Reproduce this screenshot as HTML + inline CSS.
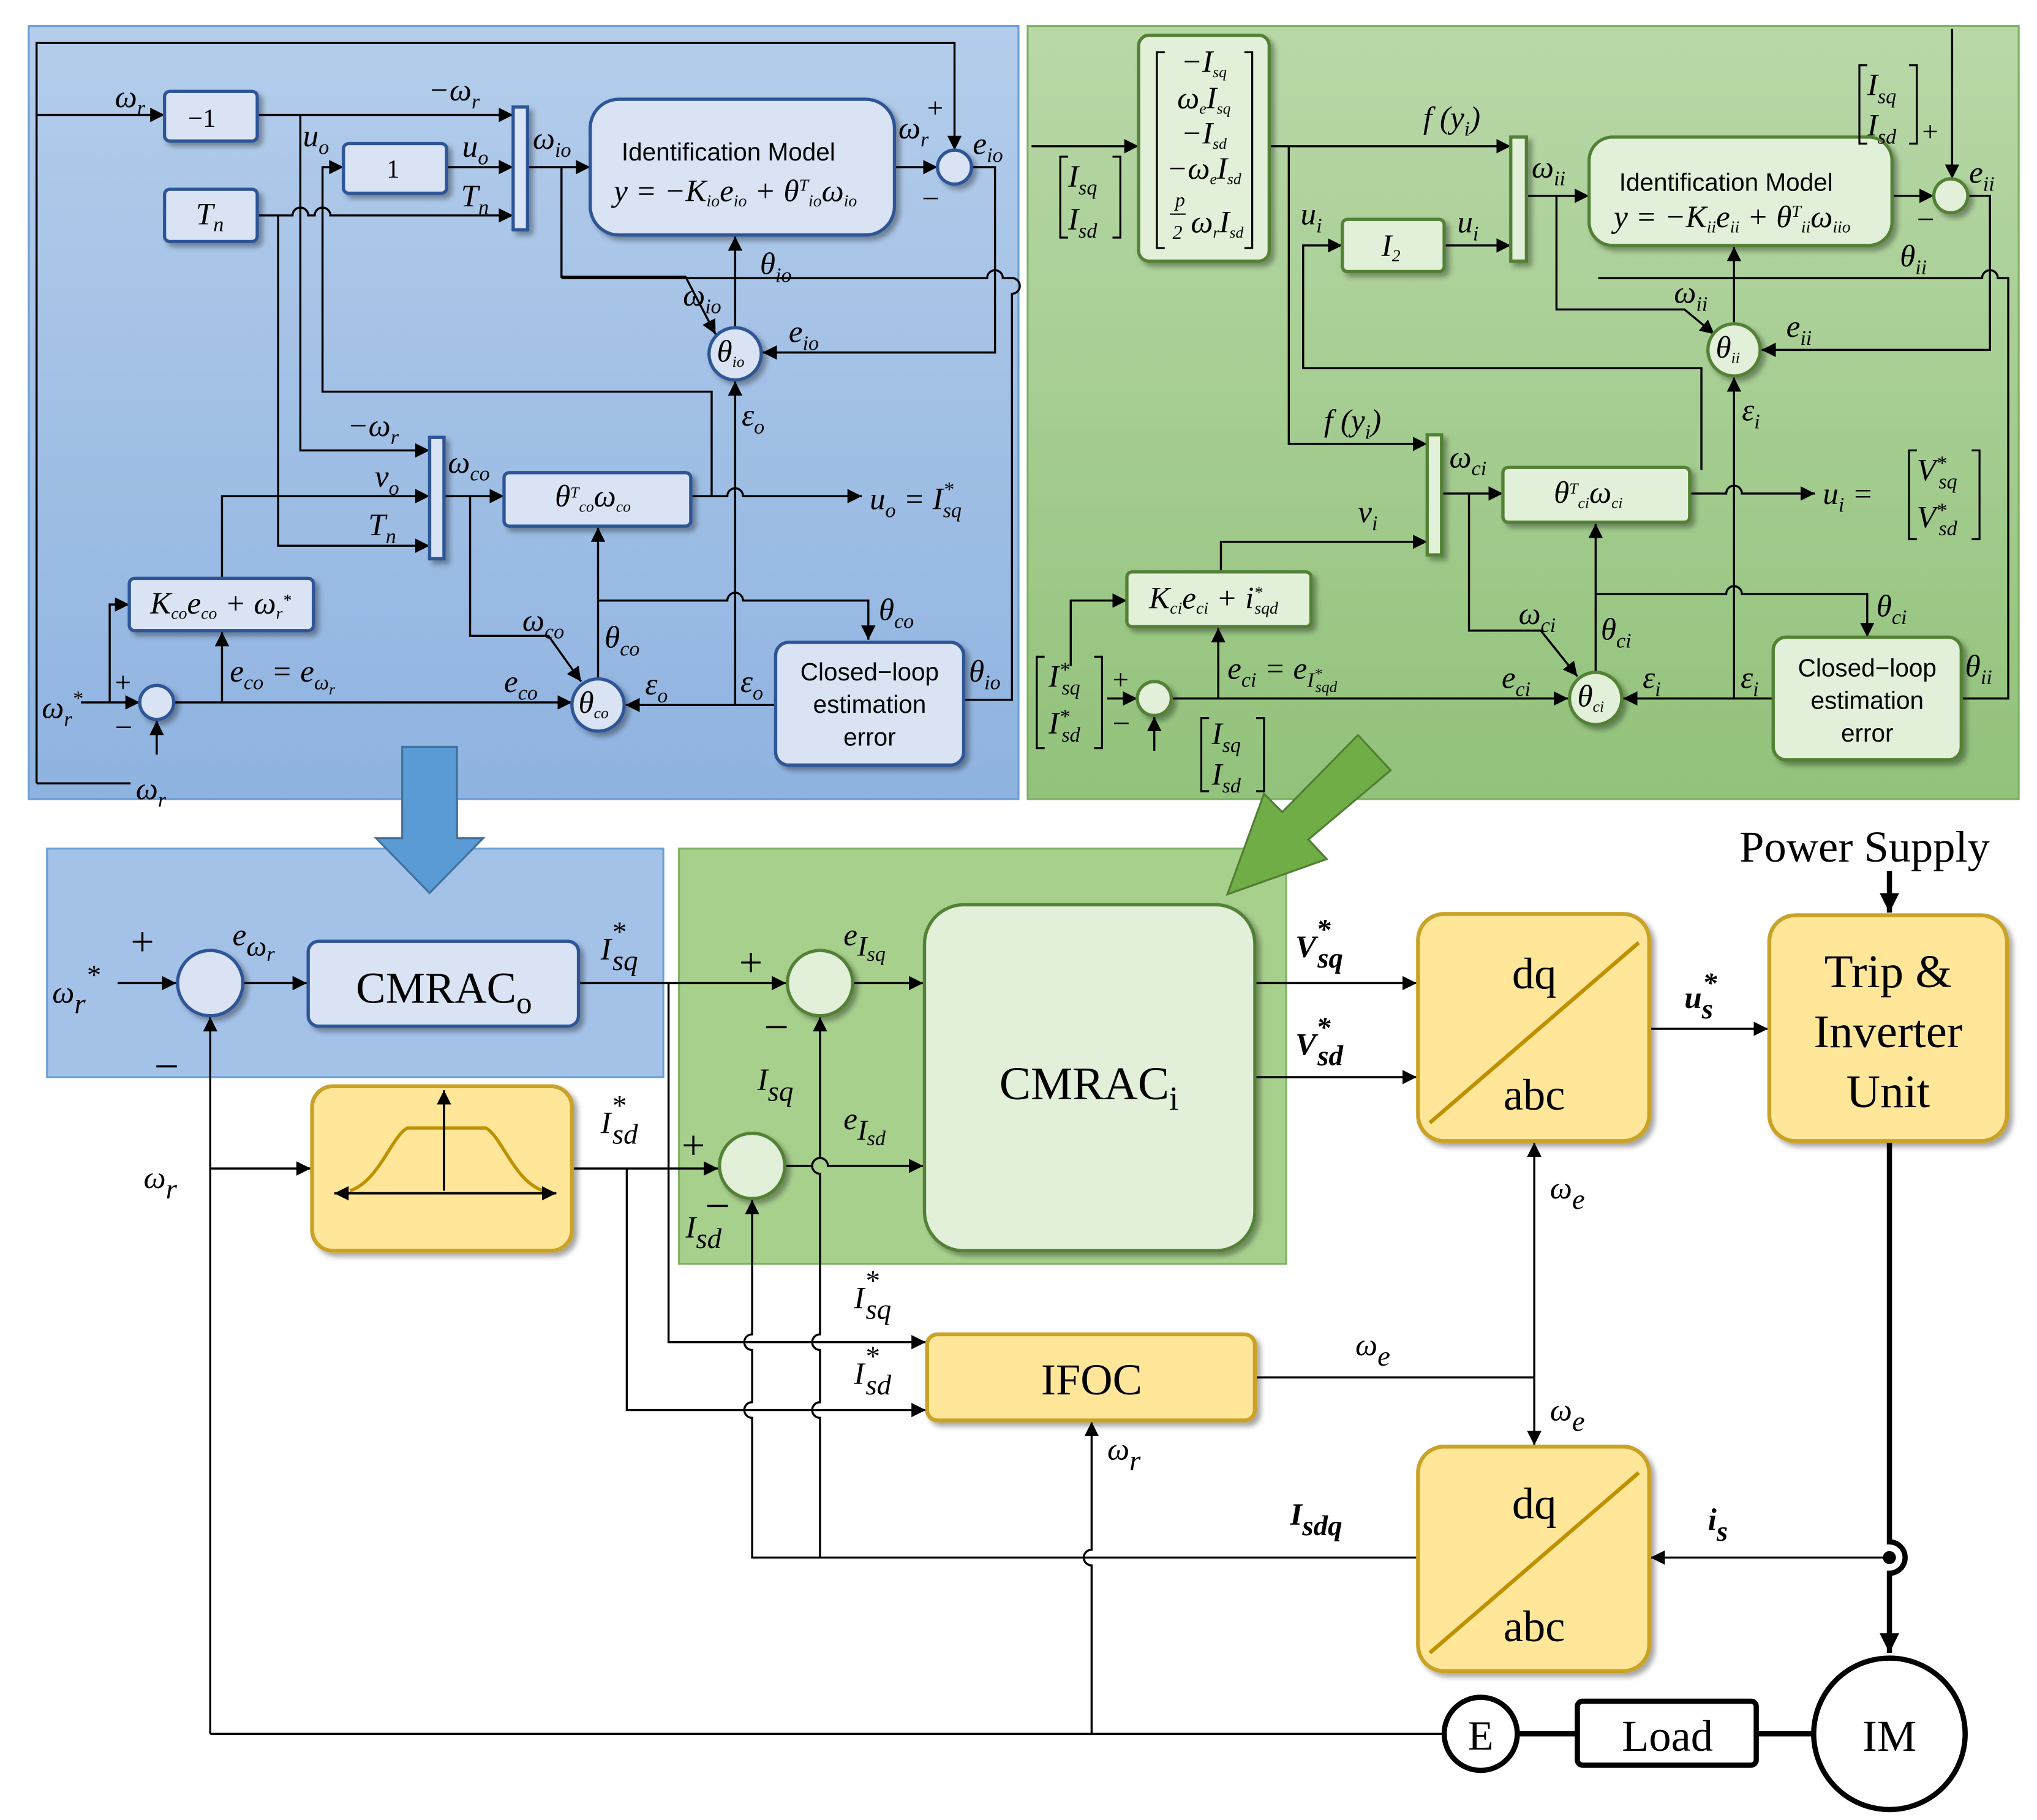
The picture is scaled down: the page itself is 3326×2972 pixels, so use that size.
<!DOCTYPE html>
<html><head><meta charset="utf-8">
<style>
html,body{margin:0;padding:0;background:#fff;}
svg{display:block;}
text{font-family:"Liberation Serif",serif;}
.m{font-style:italic;font-size:24px;}
.s{font-size:16px;}
.sf{font-family:"Liberation Sans",sans-serif;}
</style></head><body>
<svg width="3326" height="2972" viewBox="0 0 1560 1394" xmlns="http://www.w3.org/2000/svg">
<defs>
<marker id="a" viewBox="0 0 10 10" refX="10" refY="5" markerWidth="11" markerHeight="11" markerUnits="userSpaceOnUse" orient="auto"><path d="M0,0 L10,5 L0,10 z" fill="#000"/></marker>
<marker id="b" viewBox="0 0 10 10" refX="10" refY="5" markerWidth="15" markerHeight="15" markerUnits="userSpaceOnUse" orient="auto"><path d="M0,0 L10,5 L0,10 z" fill="#000"/></marker>
<linearGradient id="gb" x1="0" y1="0" x2="0" y2="1"><stop offset="0" stop-color="#b4cdeb"/><stop offset="1" stop-color="#8fb3e0"/></linearGradient>
<linearGradient id="gg" x1="0" y1="0" x2="0" y2="1"><stop offset="0" stop-color="#b9d8a8"/><stop offset="1" stop-color="#92c27b"/></linearGradient>
<filter id="sh" x="-10%" y="-10%" width="130%" height="130%"><feDropShadow dx="3" dy="3" stdDeviation="2" flood-opacity="0.35"/></filter>
</defs>

<rect x="22" y="20" width="758" height="592" fill="url(#gb)" stroke="#6d9fd6" stroke-width="1.5"/>
<rect x="787" y="20" width="759" height="592" fill="url(#gg)" stroke="#7fb163" stroke-width="1.5"/>
<rect x="36" y="650" width="472" height="175" fill="#a4c2e8" stroke="#6d9fd6" stroke-width="1.5"/>
<rect x="520" y="650" width="465" height="318" fill="#a8d08d" stroke="#7fb163" stroke-width="1.5"/>

<path d="M308,572 L350,572 L350,642 L370,642 L329,684 L288,642 L308,642 Z" fill="#5b9bd5" stroke="#41719c" stroke-width="1.5"/>
<path d="M1065,590 L1040,563 L982,622 L968,608 L940,685 L1016,658 L1002,643 Z" fill="#70ad47" stroke="#507e32" stroke-width="1.5"/>

<g fill="none" stroke="#000" stroke-width="1.6">
<polyline points="28,600 28,33 731,33 731,115" marker-end="url(#a)"/>
<line x1="28" y1="88" x2="126" y2="88" marker-end="url(#a)"/>
<line x1="28" y1="600" x2="100" y2="600"/>
<line x1="197" y1="88" x2="393" y2="88" marker-end="url(#a)"/>
<polyline points="230,88 230,345 329,345" marker-end="url(#a)"/>
<polyline points="545,380 545,300 247,300 247,128 263,128" marker-end="url(#a)"/>
<line x1="342" y1="128" x2="393" y2="128" marker-end="url(#a)"/>
<path d="M197,165 L224,165 A6,6 0 0 1 236,165 L241,165 A6,6 0 0 1 253,165 L393,165" marker-end="url(#a)"/>
<polyline points="213,165 213,418 329,418" marker-end="url(#a)"/>
<line x1="404" y1="128" x2="452" y2="128" marker-end="url(#a)"/>
<polyline points="430,128 430,212 525,212 548,256" marker-end="url(#a)"/>
<line x1="685" y1="128" x2="718" y2="128" marker-end="url(#a)"/>
<polyline points="744,128 762,128 762,270 584,270" marker-end="url(#a)"/>
<line x1="563" y1="251" x2="563" y2="181" marker-end="url(#a)"/>
<line x1="563" y1="540" x2="563" y2="292" marker-end="url(#a)"/>
<line x1="340" y1="380" x2="386" y2="380" marker-end="url(#a)"/>
<polyline points="360,380 360,487 420,487 445,522" marker-end="url(#a)"/>
<polyline points="170,443 170,380 329,380" marker-end="url(#a)"/>
<path d="M529,380 L557,380 A6,6 0 0 1 569,380 L660,380" marker-end="url(#a)"/>
<line x1="62" y1="538" x2="107" y2="538" marker-end="url(#a)"/>
<polyline points="84,538 84,463 99,463" marker-end="url(#a)"/>
<line x1="120" y1="578" x2="120" y2="552" marker-end="url(#a)"/>
<line x1="133" y1="538" x2="438" y2="538" marker-end="url(#a)"/>
<line x1="170" y1="538" x2="170" y2="484" marker-end="url(#a)"/>
<line x1="458" y1="520" x2="458" y2="404" marker-end="url(#a)"/>
<path d="M458,460 L557,460 A6,6 0 0 1 569,460 L665,460 L665,490" marker-end="url(#a)"/>
<line x1="594" y1="540" x2="479" y2="540" marker-end="url(#a)"/>
<path d="M738,536 L775,536 L775,225 A6,6 0 0 0 775,213 L775,213 M430,213 L756,213 A6,6 0 0 1 768,213 L775,213"/>

<polyline points="1495,22 1495,137" marker-end="url(#a)"/>
<line x1="790" y1="112" x2="872" y2="112" marker-end="url(#a)"/>
<line x1="972" y1="112" x2="1157" y2="112" marker-end="url(#a)"/>
<polyline points="987,112 987,340 1093,340" marker-end="url(#a)"/>
<line x1="1106" y1="188" x2="1157" y2="188" marker-end="url(#a)"/>
<polyline points="1303,360 1303,282 998,282 998,188 1028,188" marker-end="url(#a)"/>
<line x1="1169" y1="150" x2="1217" y2="150" marker-end="url(#a)"/>
<polyline points="1192,150 1192,237 1290,237 1313,256" marker-end="url(#a)"/>
<line x1="1449" y1="150" x2="1481" y2="150" marker-end="url(#a)"/>
<polyline points="1507,150 1524,150 1524,268 1349,268" marker-end="url(#a)"/>
<line x1="1328" y1="248" x2="1328" y2="189" marker-end="url(#a)"/>
<line x1="1328" y1="535" x2="1328" y2="289" marker-end="url(#a)"/>
<line x1="1104" y1="378" x2="1151" y2="378" marker-end="url(#a)"/>
<polyline points="1125,378 1125,483 1180,483 1208,518" marker-end="url(#a)"/>
<polyline points="935,438 935,415 1093,415" marker-end="url(#a)"/>
<path d="M1294,378 L1322,378 A6,6 0 0 1 1334,378 L1390,378" marker-end="url(#a)"/>
<line x1="848" y1="535" x2="871" y2="535" marker-end="url(#a)"/>
<polyline points="820,510 820,460 863,460" marker-end="url(#a)"/>
<line x1="884" y1="575" x2="884" y2="549" marker-end="url(#a)"/>
<line x1="897" y1="535" x2="1201" y2="535" marker-end="url(#a)"/>
<line x1="933" y1="535" x2="933" y2="481" marker-end="url(#a)"/>
<line x1="1222" y1="515" x2="1222" y2="401" marker-end="url(#a)"/>
<path d="M1222,455 L1322,455 A6,6 0 0 1 1334,455 L1430,455 L1430,488" marker-end="url(#a)"/>
<line x1="1358" y1="535" x2="1243" y2="535" marker-end="url(#a)"/>
<path d="M1502,535 L1538,535 L1538,213 L1530,213 A6,6 0 0 0 1518,213 L1224,213"/>

<line x1="90" y1="753" x2="135" y2="753" marker-end="url(#a)"/>
<line x1="186" y1="753" x2="235" y2="753" marker-end="url(#a)"/>
<line x1="443" y1="753" x2="602" y2="753" marker-end="url(#a)"/>
<polyline points="512,753 512,1028 709,1028" marker-end="url(#a)"/>
<line x1="653" y1="753" x2="707" y2="753" marker-end="url(#a)"/>
<path d="M601,893 L622,893 A6,6 0 0 1 634,893 L707,893" marker-end="url(#a)"/>
<line x1="438" y1="895" x2="550" y2="895" marker-end="url(#a)"/>
<polyline points="480,895 480,1080 709,1080" marker-end="url(#a)"/>
<line x1="161" y1="1328" x2="161" y2="779" marker-end="url(#a)"/>
<line x1="161" y1="895" x2="238" y2="895" marker-end="url(#a)"/>
<line x1="161" y1="1328" x2="1106" y2="1328"/>
<path d="M836,1328 L836,1199 A6,6 0 0 1 836,1187 L836,1089" marker-end="url(#a)"/>
<path d="M1086,1193 L576,1193 L576,1086 A6,6 0 0 1 576,1074 L576,1034 A6,6 0 0 1 576,1022 L576,919" marker-end="url(#a)"/>
<path d="M628,1193 L628,1086 A6,6 0 0 1 628,1074 L628,1034 A6,6 0 0 1 628,1022 L628,899 A6,6 0 0 1 628,887 L628,779" marker-end="url(#a)"/>
<line x1="961" y1="1055" x2="1175" y2="1055"/>
<line x1="1175" y1="1055" x2="1175" y2="875" marker-end="url(#a)"/>
<line x1="1175" y1="1055" x2="1175" y2="1107" marker-end="url(#a)"/>
<line x1="961" y1="753" x2="1085" y2="753" marker-end="url(#a)"/>
<line x1="961" y1="825" x2="1085" y2="825" marker-end="url(#a)"/>
<line x1="1263" y1="788" x2="1354" y2="788" marker-end="url(#a)"/>
<line x1="1447" y1="1193" x2="1264" y2="1193" marker-end="url(#a)"/>
</g>
<g fill="none" stroke="#000" stroke-width="4">
<line x1="1447" y1="667" x2="1447" y2="699" marker-end="url(#b)"/>
<path d="M1447,874 L1447,1181 A12,12 0 0 1 1447,1205 L1447,1266" marker-end="url(#b)"/>
<line x1="1162" y1="1328" x2="1208" y2="1328"/>
<line x1="1345" y1="1328" x2="1389" y2="1328"/>
</g>
<circle cx="1447" cy="1193" r="5" fill="#000"/>

<g fill="#dae3f3" stroke="#2f5597" stroke-width="2.5" filter="url(#sh)">
<rect x="126" y="70" width="71" height="38" rx="4"/>
<rect x="263" y="110" width="79" height="38" rx="4"/>
<rect x="126" y="145" width="71" height="40" rx="4"/>
<rect x="393" y="82" width="11" height="94"/>
<rect x="452" y="76" width="233" height="104" rx="22"/>
<circle cx="731" cy="128" r="13"/>
<circle cx="563" cy="271" r="20"/>
<rect x="329" y="335" width="11" height="93"/>
<rect x="386" y="362" width="143" height="41" rx="4"/>
<rect x="99" y="443" width="141" height="40" rx="4"/>
<circle cx="120" cy="538" r="13"/>
<circle cx="458" cy="540" r="20"/>
<rect x="594" y="492" width="144" height="94" rx="10"/>
<circle cx="161" cy="753" r="25"/>
<rect x="236" y="721" width="207" height="65" rx="8"/>
</g>
<g fill="#e2efd9" stroke="#538135" stroke-width="2.5" filter="url(#sh)">
<rect x="872" y="27" width="100" height="173" rx="8"/>
<rect x="1157" y="105" width="12" height="95"/>
<rect x="1028" y="168" width="78" height="40" rx="4"/>
<rect x="1217" y="105" width="232" height="83" rx="18"/>
<circle cx="1494" cy="150" r="13"/>
<circle cx="1328" cy="268" r="20"/>
<rect x="1093" y="333" width="11" height="92"/>
<rect x="1151" y="358" width="143" height="42" rx="4"/>
<rect x="863" y="438" width="141" height="42" rx="4"/>
<circle cx="884" cy="535" r="13"/>
<circle cx="1222" cy="535" r="20"/>
<rect x="1358" y="488" width="144" height="94" rx="10"/>
<circle cx="628" cy="753" r="25"/>
<circle cx="576" cy="893" r="25"/>
<rect x="708" y="693" width="253" height="265" rx="30"/>
</g>
<g fill="#ffe699" stroke="#c9a227" stroke-width="3" filter="url(#sh)">
<rect x="239" y="832" width="199" height="126" rx="16"/>
<rect x="1086" y="700" width="177" height="174" rx="20"/>
<rect x="1355" y="701" width="182" height="173" rx="20"/>
<rect x="710" y="1022" width="251" height="66" rx="8"/>
<rect x="1086" y="1108" width="177" height="172" rx="20"/>
</g>
<g stroke="#bf9000" stroke-width="3">
<line x1="1095" y1="860" x2="1255" y2="722"/>
<line x1="1095" y1="1266" x2="1255" y2="1128"/>
</g>
<g fill="none" stroke="#000" stroke-width="1.8">
<path d="M268,912 C290,905 300,870 312,864 L372,864 C384,870 394,905 416,912" stroke="#bf9000" stroke-width="2.5"/>
<line x1="340" y1="912" x2="340" y2="835" marker-end="url(#a)"/>
<line x1="258" y1="914" x2="426" y2="914" marker-end="url(#a)"/>
<line x1="426" y1="914" x2="256" y2="914" marker-end="url(#a)"/>
</g>
<circle cx="1134" cy="1328" r="28" fill="#fff" stroke="#000" stroke-width="4"/>
<rect x="1208" y="1303" width="137" height="49" rx="4" fill="#fff" stroke="#000" stroke-width="4"/>
<circle cx="1447" cy="1328" r="58" fill="#fff" stroke="#000" stroke-width="4"/>

<g font-size="22" fill="#000">
<text x="144" y="97" font-size="20">−1</text>
<text x="296" y="136" font-size="20">1</text>
<text x="150" y="172" class="m" font-size="20">T<tspan dy="5" class="s">n</tspan></text>
<text x="88" y="82" class="m">ω<tspan dy="6" class="s">r</tspan></text>
<text x="328" y="77" class="m">−ω<tspan dy="6" class="s">r</tspan></text>
<text x="232" y="112" class="m">u<tspan dy="6" class="s">o</tspan></text>
<text x="354" y="120" class="m">u<tspan dy="6" class="s">o</tspan></text>
<text x="353" y="158" class="m">T<tspan dy="6" class="s">n</tspan></text>
<text x="408" y="114" class="m">ω<tspan dy="6" class="s">io</tspan></text>
<text x="476" y="123" class="sf" font-size="19">Identification Model</text>
<text x="470" y="154" class="m" font-size="18">y = −K<tspan dy="4" font-size="13">io</tspan><tspan dy="-4">e</tspan><tspan dy="4" font-size="13">io</tspan><tspan dy="-4"> + θ</tspan><tspan dy="-8" font-size="13">T</tspan><tspan dy="12" font-size="13">io</tspan><tspan dy="-4">ω</tspan><tspan dy="4" font-size="13">io</tspan></text>
<text x="688" y="106" class="m">ω<tspan dy="6" class="s">r</tspan></text>
<text x="710" y="90" font-size="22">+</text>
<text x="706" y="160" font-size="24">−</text>
<text x="745" y="118" class="m">e<tspan dy="6" class="s">io</tspan></text>
<text x="582" y="210" class="m">θ<tspan dy="6" class="s">io</tspan></text>
<text x="523" y="234" class="m">ω<tspan dy="6" class="s">io</tspan></text>
<text x="604" y="262" class="m">e<tspan dy="6" class="s">io</tspan></text>
<text x="549" y="277" class="m" font-size="16">θ<tspan dy="4" font-size="12">io</tspan></text>
<text x="568" y="326" class="m">ε<tspan dy="6" class="s">o</tspan></text>
<text x="266" y="334" class="m">−ω<tspan dy="6" class="s">r</tspan></text>
<text x="343" y="362" class="m">ω<tspan dy="6" class="s">co</tspan></text>
<text x="287" y="373" class="m">v<tspan dy="6" class="s">o</tspan></text>
<text x="282" y="410" class="m">T<tspan dy="6" class="s">n</tspan></text>
<text x="425" y="388" class="m" font-size="17">θ<tspan dy="-7" font-size="12">T</tspan><tspan dy="11" font-size="12">co</tspan><tspan dy="-4">ω</tspan><tspan dy="4" font-size="12">co</tspan></text>
<text x="666" y="390" class="m">u<tspan dy="6" class="s">o</tspan><tspan dy="-6"> = I</tspan><tspan dy="-10" class="s">*</tspan><tspan dx="-8" dy="16" class="s">sq</tspan></text>
<text x="115" y="470" class="m" font-size="18">K<tspan dy="4" font-size="13">co</tspan><tspan dy="-4">e</tspan><tspan dy="4" font-size="13">co</tspan><tspan dy="-4"> + ω</tspan><tspan dy="4" font-size="13">r</tspan><tspan dy="-10" font-size="13">*</tspan></text>
<text x="400" y="483" class="m">ω<tspan dy="6" class="s">co</tspan></text>
<text x="463" y="496" class="m">θ<tspan dy="6" class="s">co</tspan></text>
<text x="673" y="475" class="m">θ<tspan dy="6" class="s">co</tspan></text>
<text x="176" y="522" class="m">e<tspan dy="6" class="s">co</tspan><tspan dy="-6"> = e</tspan><tspan dy="6" class="s">ω</tspan><tspan dy="4" font-size="12">r</tspan></text>
<text x="386" y="530" class="m">e<tspan dy="6" class="s">co</tspan></text>
<text x="494" y="532" class="m">ε<tspan dy="6" class="s">o</tspan></text>
<text x="567" y="530" class="m">ε<tspan dy="6" class="s">o</tspan></text>
<text x="443" y="546" class="m" font-size="16">θ<tspan dy="4" font-size="12">co</tspan></text>
<text x="742" y="522" class="m">θ<tspan dy="6" class="s">io</tspan></text>
<text x="666" y="521" class="sf" font-size="19" text-anchor="middle">Closed−loop</text>
<text x="666" y="546" class="sf" font-size="19" text-anchor="middle">estimation</text>
<text x="666" y="571" class="sf" font-size="19" text-anchor="middle">error</text>
<text x="32" y="550" class="m">ω<tspan dy="6" class="s">r</tspan><tspan dy="-16" class="s">*</tspan></text>
<text x="88" y="530" font-size="22">+</text>
<text x="88" y="565" font-size="24">−</text>
<text x="104" y="612" class="m">ω<tspan dy="6" class="s">r</tspan></text>

<g class="m" font-size="17">
<text x="922" y="55" text-anchor="middle">−I<tspan dy="4" font-size="12">sq</tspan></text>
<text x="922" y="83" text-anchor="middle">ω<tspan dy="4" font-size="12">e</tspan><tspan dy="-4">I</tspan><tspan dy="4" font-size="12">sq</tspan></text>
<text x="922" y="110" text-anchor="middle">−I<tspan dy="4" font-size="12">sd</tspan></text>
<text x="922" y="137" text-anchor="middle">−ω<tspan dy="4" font-size="12">e</tspan><tspan dy="-4">I</tspan><tspan dy="4" font-size="12">sd</tspan></text>
<text x="900" y="158" font-size="15">p</text><line x1="896" y1="164" x2="908" y2="164" stroke="#000"/><text x="898" y="183" font-size="15">2</text>
<text x="912" y="178">ω<tspan dy="4" font-size="12">r</tspan><tspan dy="-4">I</tspan><tspan dy="4" font-size="12">sd</tspan></text>
</g>
<path d="M892,40 L886,40 L886,190 L892,190 M953,40 L959,40 L959,190 L953,190" fill="none" stroke="#000" stroke-width="1.5"/>
<path d="M818,120 L812,120 L812,182 L818,182 M852,120 L858,120 L858,182 L852,182" fill="none" stroke="#000" stroke-width="1.5"/>
<text x="818" y="143" class="m">I<tspan dy="6" class="s">sq</tspan></text>
<text x="818" y="176" class="m">I<tspan dy="6" class="s">sd</tspan></text>
<text x="1090" y="98" class="m">f (y<tspan dy="6" class="s">i</tspan><tspan dy="-6">)</tspan></text>
<text x="996" y="172" class="m">u<tspan dy="6" class="s">i</tspan></text>
<text x="1058" y="196" class="m" font-size="18">I<tspan dy="4" font-size="13">2</tspan></text>
<text x="1116" y="178" class="m">u<tspan dy="6" class="s">i</tspan></text>
<text x="1173" y="136" class="m">ω<tspan dy="6" class="s">ii</tspan></text>
<text x="1240" y="146" class="sf" font-size="19">Identification Model</text>
<text x="1236" y="174" class="m" font-size="18">y = −K<tspan dy="4" font-size="13">ii</tspan><tspan dy="-4">e</tspan><tspan dy="4" font-size="13">ii</tspan><tspan dy="-4"> + θ</tspan><tspan dy="-8" font-size="13">T</tspan><tspan dy="12" font-size="13">ii</tspan><tspan dy="-4">ω</tspan><tspan dy="4" font-size="13">iio</tspan></text>
<path d="M1430,50 L1424,50 L1424,110 L1430,110 M1462,50 L1468,50 L1468,110 L1462,110" fill="none" stroke="#000" stroke-width="1.5"/>
<text x="1430" y="73" class="m">I<tspan dy="6" class="s">sq</tspan></text>
<text x="1430" y="104" class="m">I<tspan dy="6" class="s">sd</tspan></text>
<text x="1472" y="108" font-size="22">+</text>
<text x="1468" y="176" font-size="24">−</text>
<text x="1508" y="140" class="m">e<tspan dy="6" class="s">ii</tspan></text>
<text x="1455" y="204" class="m">θ<tspan dy="6" class="s">ii</tspan></text>
<text x="1282" y="232" class="m">ω<tspan dy="6" class="s">ii</tspan></text>
<text x="1368" y="258" class="m">e<tspan dy="6" class="s">ii</tspan></text>
<text x="1314" y="274" class="m" font-size="16">θ<tspan dy="4" font-size="12">ii</tspan></text>
<text x="1334" y="322" class="m">ε<tspan dy="6" class="s">i</tspan></text>
<text x="1014" y="330" class="m">f (y<tspan dy="6" class="s">i</tspan><tspan dy="-6">)</tspan></text>
<text x="1110" y="358" class="m">ω<tspan dy="6" class="s">ci</tspan></text>
<text x="1040" y="400" class="m">v<tspan dy="6" class="s">i</tspan></text>
<text x="1190" y="385" class="m" font-size="17">θ<tspan dy="-7" font-size="12">T</tspan><tspan dy="11" font-size="12">ci</tspan><tspan dy="-4">ω</tspan><tspan dy="4" font-size="12">ci</tspan></text>
<text x="1396" y="386" class="m">u<tspan dy="6" class="s">i</tspan><tspan dy="-6">  =</tspan></text>
<path d="M1468,345 L1462,345 L1462,413 L1468,413 M1510,345 L1516,345 L1516,413 L1510,413" fill="none" stroke="#000" stroke-width="1.5"/>
<text x="1468" y="368" class="m">V<tspan dy="-8" class="s">*</tspan><tspan dx="-6" dy="14" class="s">sq</tspan></text>
<text x="1468" y="404" class="m">V<tspan dy="-8" class="s">*</tspan><tspan dx="-6" dy="14" class="s">sd</tspan></text>
<text x="880" y="466" class="m" font-size="18">K<tspan dy="4" font-size="13">ci</tspan><tspan dy="-4">e</tspan><tspan dy="4" font-size="13">ci</tspan><tspan dy="-4"> + i</tspan><tspan dy="-8" font-size="13">*</tspan><tspan dx="-6" dy="12" font-size="13">sqd</tspan></text>
<text x="1163" y="478" class="m">ω<tspan dy="6" class="s">ci</tspan></text>
<text x="1226" y="490" class="m">θ<tspan dy="6" class="s">ci</tspan></text>
<text x="1437" y="472" class="m">θ<tspan dy="6" class="s">ci</tspan></text>
<text x="940" y="520" class="m">e<tspan dy="6" class="s">ci</tspan><tspan dy="-6"> = e</tspan><tspan dy="6" class="s">I</tspan><tspan dy="-6" font-size="12">*</tspan><tspan dx="-5" dy="10" font-size="12">sqd</tspan></text>
<text x="1150" y="527" class="m">e<tspan dy="6" class="s">ci</tspan></text>
<text x="1258" y="527" class="m">ε<tspan dy="6" class="s">i</tspan></text>
<text x="1333" y="527" class="m">ε<tspan dy="6" class="s">i</tspan></text>
<text x="1208" y="541" class="m" font-size="16">θ<tspan dy="4" font-size="12">ci</tspan></text>
<text x="1505" y="518" class="m">θ<tspan dy="6" class="s">ii</tspan></text>
<text x="1430" y="518" class="sf" font-size="19" text-anchor="middle">Closed−loop</text>
<text x="1430" y="543" class="sf" font-size="19" text-anchor="middle">estimation</text>
<text x="1430" y="568" class="sf" font-size="19" text-anchor="middle">error</text>
<path d="M800,503 L794,503 L794,573 L800,573 M838,503 L844,503 L844,573 L838,573" fill="none" stroke="#000" stroke-width="1.5"/>
<text x="803" y="526" class="m">I<tspan dy="-8" class="s">*</tspan><tspan dx="-6" dy="14" class="s">sq</tspan></text>
<text x="803" y="562" class="m">I<tspan dy="-8" class="s">*</tspan><tspan dx="-6" dy="14" class="s">sd</tspan></text>
<text x="852" y="528" font-size="22">+</text>
<text x="852" y="562" font-size="24">−</text>
<path d="M926,550 L920,550 L920,606 L926,606 M962,550 L968,550 L968,606 L962,606" fill="none" stroke="#000" stroke-width="1.5"/>
<text x="928" y="570" class="m">I<tspan dy="6" class="s">sq</tspan></text>
<text x="928" y="601" class="m">I<tspan dy="6" class="s">sd</tspan></text>

<text x="40" y="768" class="m" font-size="32">ω<tspan dy="8" font-size="22">r</tspan><tspan dy="-22" font-size="22">*</tspan></text>
<text x="100" y="732" font-size="32">+</text>
<text x="118" y="828" font-size="34">−</text>
<text x="178" y="724" class="m" font-size="32">e<tspan dy="8" font-size="22">ω</tspan><tspan dy="4" font-size="16">r</tspan></text>
<text x="340" y="768" font-size="34" text-anchor="middle">CMRAC<tspan dy="8" font-size="24">o</tspan></text>
<text x="460" y="735" class="m" font-size="32">I<tspan dy="-14" font-size="22">*</tspan><tspan dx="-10" dy="22" font-size="22">sq</tspan></text>
<text x="566" y="748" font-size="32">+</text>
<text x="585" y="798" font-size="34">−</text>
<text x="646" y="724" class="m" font-size="32">e<tspan dy="8" font-size="22">I</tspan><tspan dy="4" font-size="16">sq</tspan></text>
<text x="580" y="835" class="m" font-size="32">I<tspan dy="8" font-size="22">sq</tspan></text>
<text x="646" y="865" class="m" font-size="32">e<tspan dy="8" font-size="22">I</tspan><tspan dy="4" font-size="16">sd</tspan></text>
<text x="460" y="868" class="m" font-size="32">I<tspan dy="-14" font-size="22">*</tspan><tspan dx="-10" dy="22" font-size="22">sd</tspan></text>
<text x="522" y="888" font-size="32">+</text>
<text x="540" y="935" font-size="34">−</text>
<text x="525" y="948" class="m" font-size="32">I<tspan dy="8" font-size="22">sd</tspan></text>
<text x="834" y="842" font-size="36" text-anchor="middle">CMRAC<tspan dy="8" font-size="26">i</tspan></text>
<text x="110" y="910" class="m" font-size="32">ω<tspan dy="8" font-size="22">r</tspan></text>
<text x="992" y="733" class="m" font-size="32" font-weight="bold">V<tspan dy="-14" font-size="22">*</tspan><tspan dx="-10" dy="22" font-size="22">sq</tspan></text>
<text x="992" y="808" class="m" font-size="32" font-weight="bold">V<tspan dy="-14" font-size="22">*</tspan><tspan dx="-10" dy="22" font-size="22">sd</tspan></text>
<text x="1175" y="757" font-size="34" text-anchor="middle">dq</text>
<text x="1175" y="850" font-size="34" text-anchor="middle">abc</text>
<text x="1290" y="772" class="m" font-size="32" font-weight="bold">u<tspan dy="8" font-size="22">s</tspan><tspan dx="-8" dy="-20" font-size="22">*</tspan></text>
<text x="1428" y="660" font-size="34" text-anchor="middle">Power Supply</text>
<text x="1446" y="756" font-size="36" text-anchor="middle">Trip &amp;</text>
<text x="1446" y="802" font-size="36" text-anchor="middle">Inverter</text>
<text x="1446" y="848" font-size="36" text-anchor="middle">Unit</text>
<text x="1187" y="918" class="m" font-size="32">ω<tspan dy="8" font-size="22">e</tspan></text>
<text x="654" y="1002" class="m" font-size="32">I<tspan dy="-14" font-size="22">*</tspan><tspan dx="-10" dy="22" font-size="22">sq</tspan></text>
<text x="654" y="1060" class="m" font-size="32">I<tspan dy="-14" font-size="22">*</tspan><tspan dx="-10" dy="22" font-size="22">sd</tspan></text>
<text x="836" y="1068" font-size="34" text-anchor="middle">IFOC</text>
<text x="1038" y="1038" class="m" font-size="32">ω<tspan dy="8" font-size="22">e</tspan></text>
<text x="1187" y="1088" class="m" font-size="32">ω<tspan dy="8" font-size="22">e</tspan></text>
<text x="848" y="1118" class="m" font-size="32">ω<tspan dy="8" font-size="22">r</tspan></text>
<text x="988" y="1168" class="m" font-size="32" font-weight="bold">I<tspan dy="8" font-size="22">sdq</tspan></text>
<text x="1175" y="1163" font-size="34" text-anchor="middle">dq</text>
<text x="1175" y="1257" font-size="34" text-anchor="middle">abc</text>
<text x="1308" y="1172" class="m" font-size="32" font-weight="bold">i<tspan dy="8" font-size="22">s</tspan></text>
<text x="1134" y="1340" font-size="32" text-anchor="middle">E</text>
<text x="1277" y="1341" font-size="34" text-anchor="middle">Load</text>
<text x="1447" y="1341" font-size="34" text-anchor="middle">IM</text>
</g>
</svg>
</body></html>
